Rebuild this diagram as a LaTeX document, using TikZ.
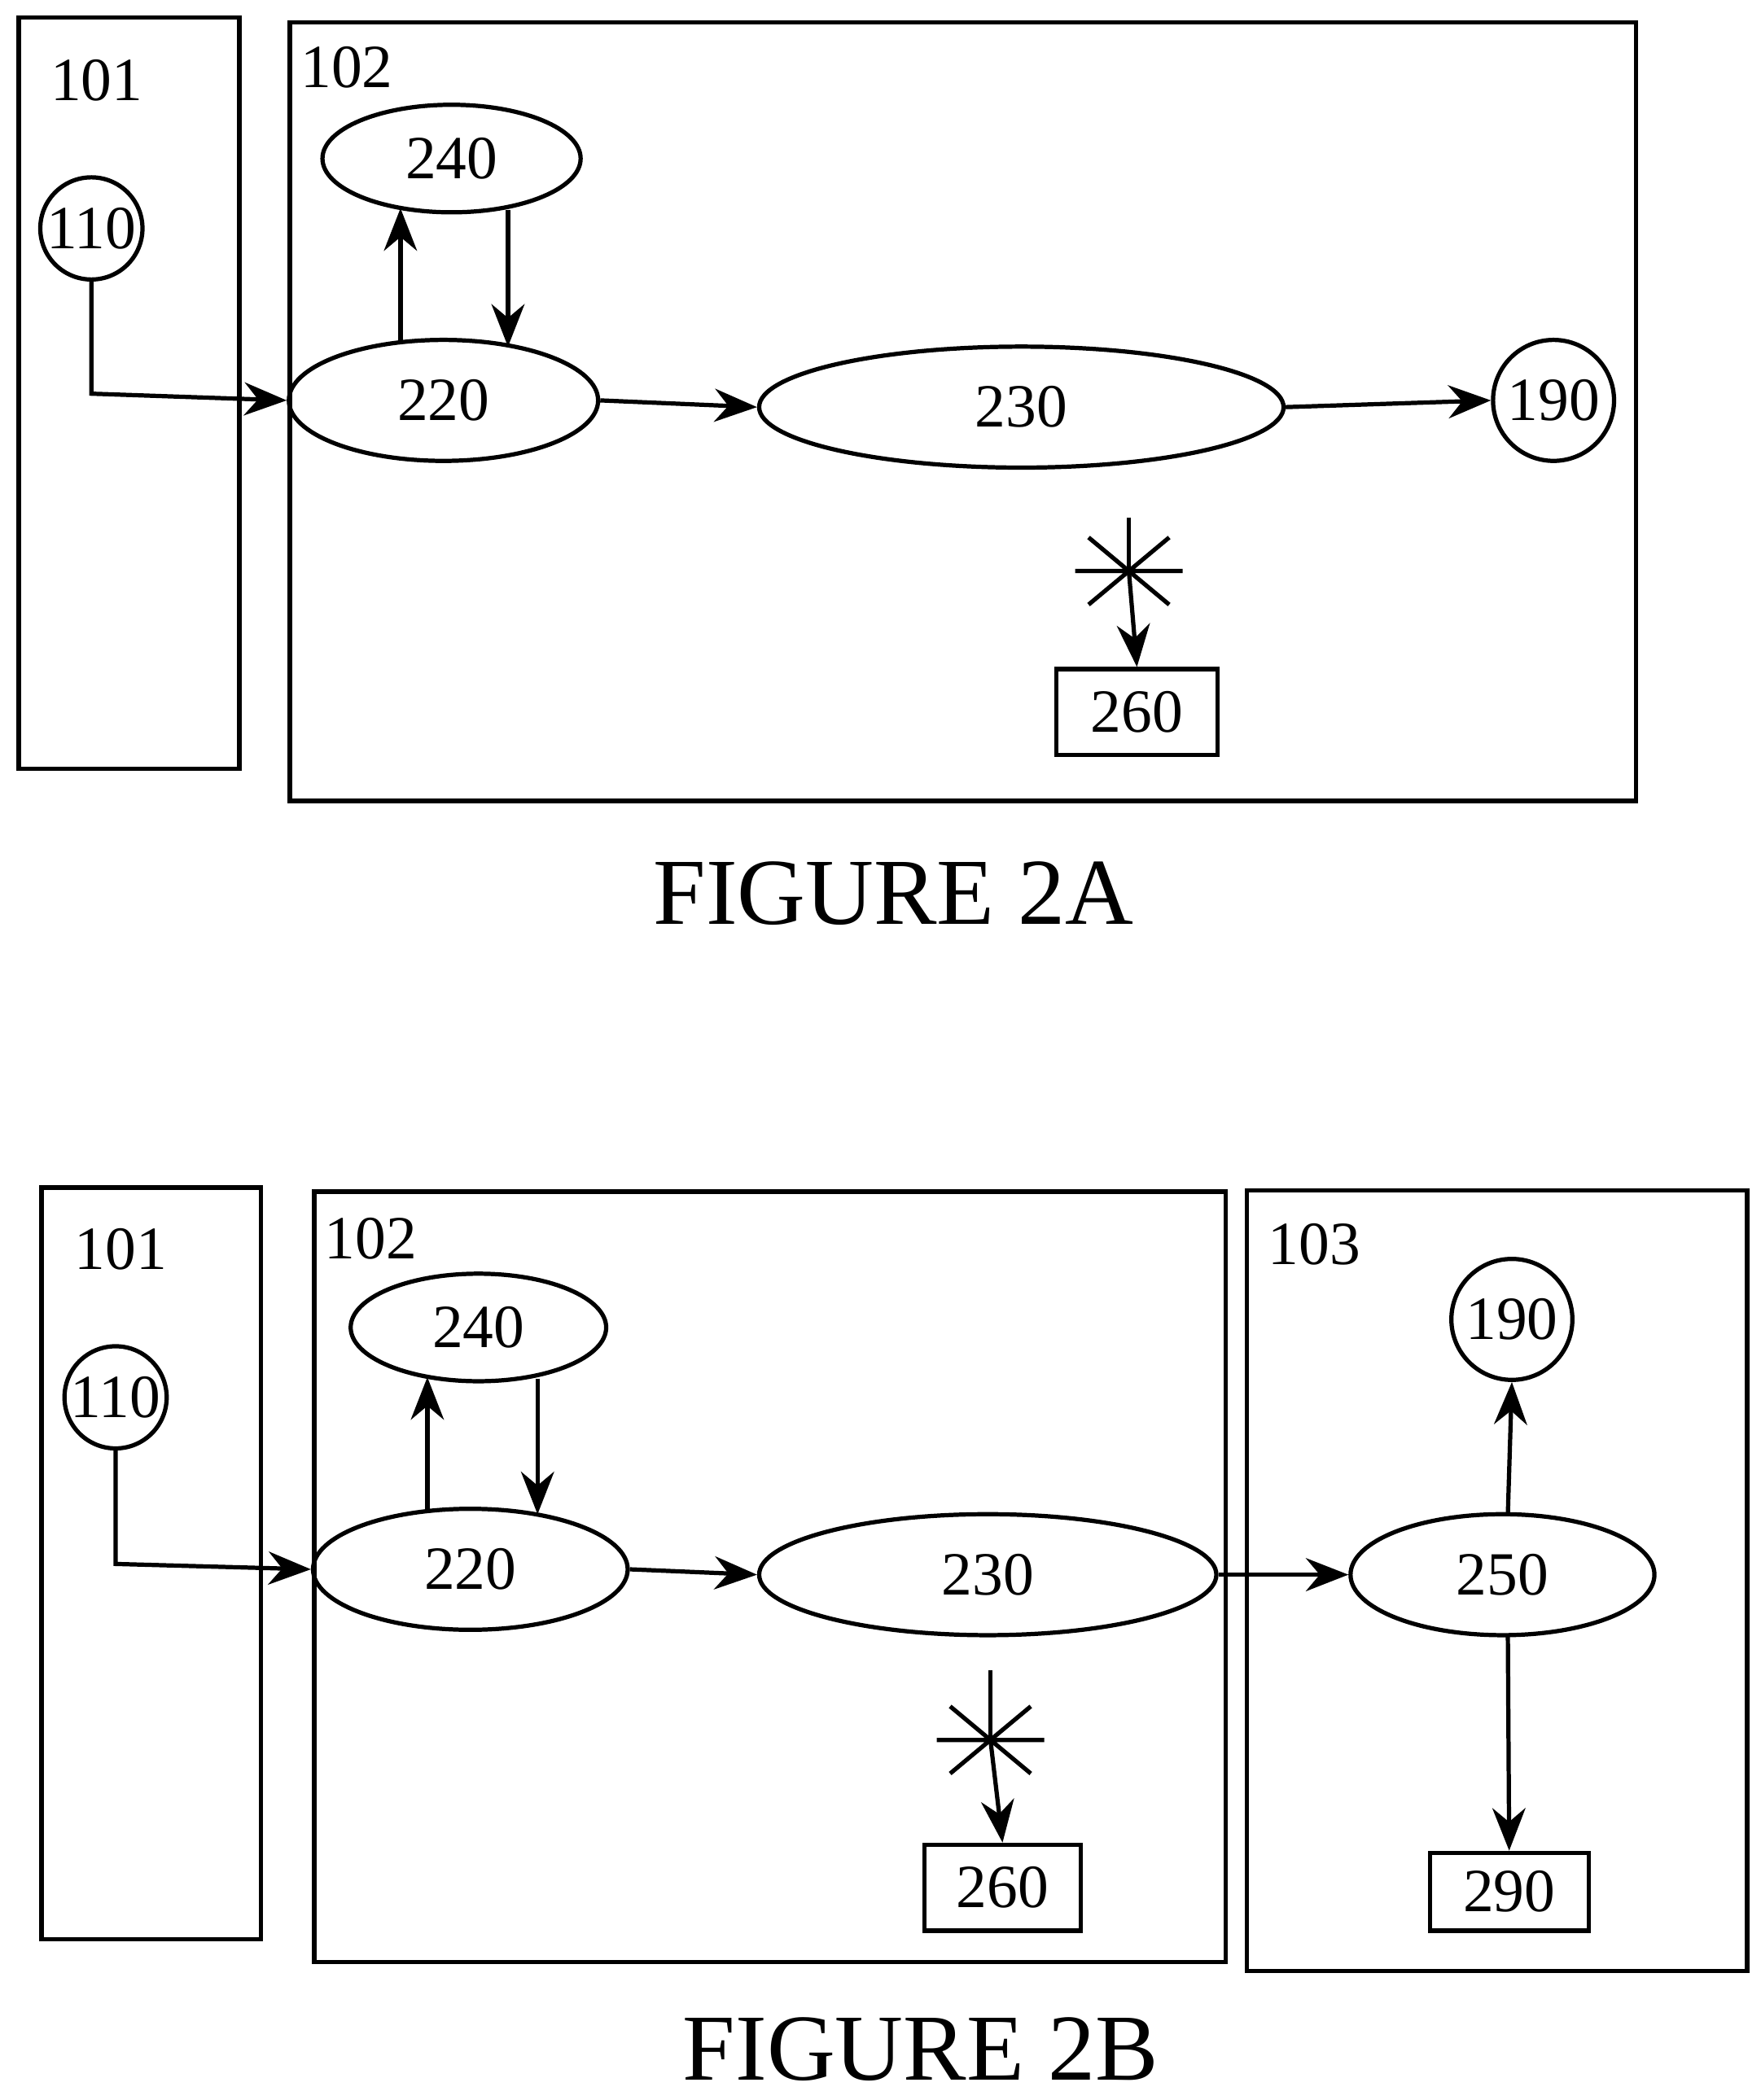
\documentclass[tikz,border=0pt]{standalone}
\usepackage{fontspec}
\setmainfont{Liberation Serif}
\usetikzlibrary{arrows.meta,shapes.geometric}
\begin{document}
\begin{tikzpicture}[x=0.01cm,y=-0.01cm,
  box/.style={draw,line width=0.9pt},
  el/.style={draw,ellipse,line width=0.9pt,inner sep=0pt,font=\fontsize{13}{13}\selectfont},
  ci/.style={draw,circle,line width=0.9pt,inner sep=0pt,font=\fontsize{13}{13}\selectfont},
  lab/.style={font=\fontsize{13}{13}\selectfont},
  arr/.style={line width=0.9pt,-{Stealth[length=9pt,width=7pt]}},
  figcap/.style={font=\fontsize{20}{20}\selectfont}]
\useasboundingbox (0,0) rectangle (1310,1563);
% ---- Figure 2A
\node[box,minimum width=1.64cm,minimum height=5.59cm] (a101) at (96,292.5) {};
\node[lab] (a101l) at (72,60) {101};
\node[box,minimum width=10.01cm,minimum height=5.79cm] (a102) at (716.5,306.5) {};
\node[lab] (a102l) at (258,50) {102};
\node[ci,minimum size=0.76cm] (a110) at (68,170) {110};
\node[el,minimum width=1.92cm,minimum height=0.8cm] (a240) at (336,118) {240};
\node[el,minimum width=2.3cm,minimum height=0.9cm] (a220) at (330,298) {220};
\node[el,minimum width=3.9cm,minimum height=0.9cm] (a230) at (760,303) {230};
\node[ci,minimum size=0.9cm] (a190) at (1156,298) {190};
\node[box,lab,minimum width=1.2cm,minimum height=0.64cm] (a260) at (846,530) {260};
\coordinate (aS) at (840,425);
\draw[line width=0.9pt] (aS)+(-40,0)--+(40,0) (aS)+(-30,-25)--+(30,25) (aS)+(-30,25)--+(30,-25);
\draw[line width=0.9pt] (840,385)--(aS);
\draw[arr] (aS)--(a260.north);
\coordinate (aC) at (68,293);
\draw[arr] (a110.south)--(aC)--(a220.west);
\draw[arr] (298,255) -- (298,155);
\draw[arr] (378,156) -- (378,258);
\draw[arr] (a220.east)--(a230.west);
\draw[arr] (a230.east)--(a190.west);
\node[figcap] (capA) at (665,665) {FIGURE 2A};
% ---- Figure 2B
\node[box,minimum width=1.63cm,minimum height=5.59cm] (b101) at (112.5,1163.5) {};
\node[lab] (b101l) at (90,930) {101};
\node[box,minimum width=6.78cm,minimum height=5.73cm] (b102) at (573,1173.5) {};
\node[lab] (b102l) at (276,922) {102};
\node[box,minimum width=3.72cm,minimum height=5.81cm] (b103) at (1114,1176.5) {};
\node[lab] (b103l) at (978,926) {103};
\node[ci,minimum size=0.76cm] (b110) at (86,1040) {110};
\node[el,minimum width=1.9cm,minimum height=0.8cm] (b240) at (356,988) {240};
\node[el,minimum width=2.34cm,minimum height=0.9cm] (b220) at (350,1168) {220};
\node[el,minimum width=3.4cm,minimum height=0.9cm] (b230) at (735,1172) {230};
\node[el,minimum width=2.26cm,minimum height=0.9cm] (b250) at (1118,1172) {250};
\node[ci,minimum size=0.9cm] (b190) at (1125,982) {190};
\node[box,lab,minimum width=1.16cm,minimum height=0.64cm] (b260) at (746,1405) {260};
\node[box,lab,minimum width=1.18cm,minimum height=0.58cm] (b290) at (1123,1408) {290};
\coordinate (bS) at (737,1295);
\draw[line width=0.9pt] (bS)+(-40,0)--+(40,0) (bS)+(-30,-25)--+(30,25) (bS)+(-30,25)--+(30,-25);
\draw[line width=0.9pt] (737,1243)--(bS);
\draw[arr] (bS)--(b260.north);
\coordinate (bC) at (86,1164);
\draw[arr] (b110.south)--(bC)--(b220.west);
\draw[arr] (318,1126) -- (318,1025);
\draw[arr] (400,1026) -- (400,1127);
\draw[arr] (b220.east)--(b230.west);
\draw[arr] (b230.east)--(b250.west);
\draw[arr] (1122,1127)--(b190.south);
\draw[arr] (1122,1217)--(b290.north);
\node[figcap] (capB) at (685,1525) {FIGURE 2B};
\end{tikzpicture}
\end{document}
